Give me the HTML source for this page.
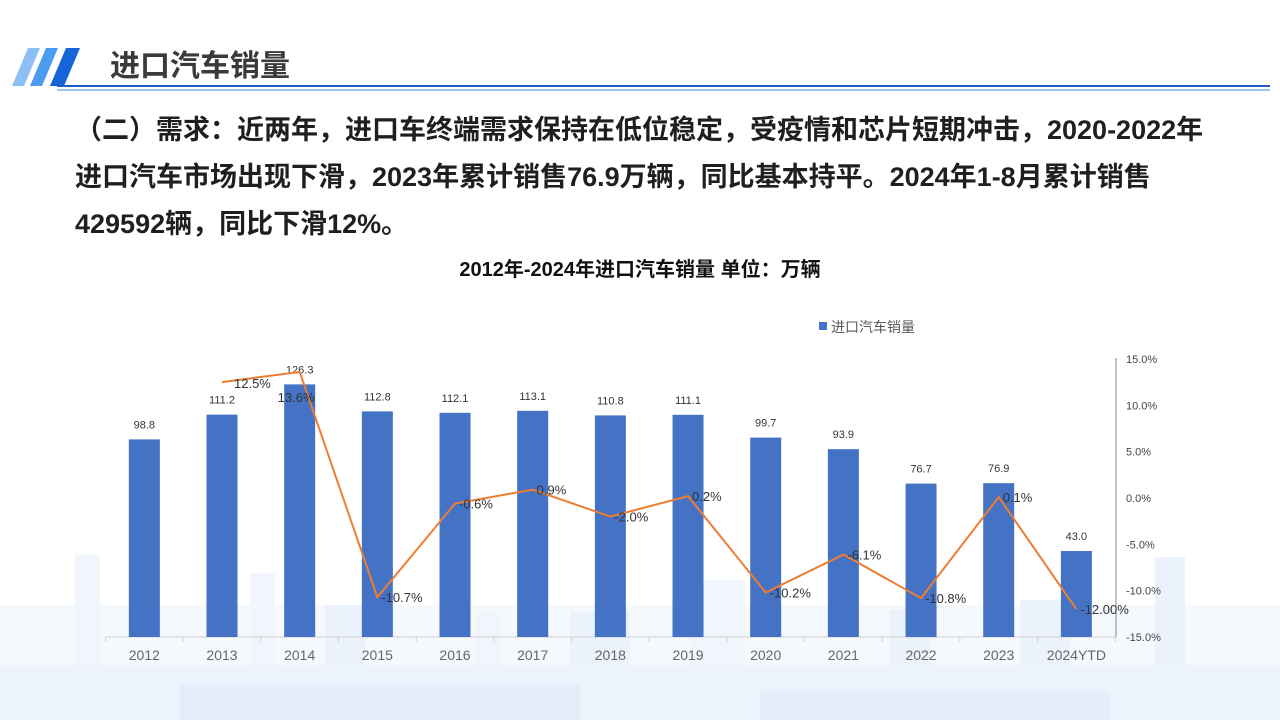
<!DOCTYPE html>
<html><head><meta charset="utf-8">
<style>
body{margin:0;width:1280px;height:720px;overflow:hidden;background:#fff;font-family:"Liberation Sans","Noto Sans CJK SC",sans-serif;}
#wrap{position:relative;width:1280px;height:720px;}
.para{position:absolute;left:75px;top:107px;width:1200px;font-size:27px;font-weight:bold;color:#1f1f1f;line-height:47px;white-space:nowrap;}
</style></head><body>
<div id="wrap">
<svg width="1280" height="720" style="position:absolute;left:0;top:0">
  <g fill="#f1f6fd">
    <rect x="0" y="605" width="1280" height="115" fill="#f5f8fd"/>
    <rect x="75" y="555" width="25" height="165"/>
    <rect x="250" y="573" width="25" height="147"/>
    <rect x="325" y="605" width="40" height="115" fill="#ebf2fc"/>
    <rect x="475" y="612" width="25" height="108"/>
    <rect x="570" y="612" width="60" height="108" fill="#ebf2fc"/>
    <rect x="690" y="580" width="55" height="140"/>
    <rect x="890" y="610" width="40" height="110" fill="#ebf2fc"/>
    <rect x="1020" y="600" width="50" height="120" fill="#ebf2fc"/>
    <rect x="1155" y="557" width="30" height="163" fill="#ebf2fc"/>
    <rect x="0" y="665" width="1280" height="55" fill="#edf3fc"/>
    <rect x="180" y="685" width="400" height="35" fill="#e4eefb"/>
    <rect x="760" y="692" width="350" height="28" fill="#e4eefb"/>
  </g>
  <g>
    <polygon points="28,48 40,48 24,86 12,86" fill="#8cc0f5"/>
    <polygon points="46,48 58,48 42,86 30,86" fill="#4b9cf0"/>
    <polygon points="66,48 80,48 64,86 50,86" fill="#1565d8"/>
  </g>
  <line x1="57" y1="86" x2="1270" y2="86" stroke="#1d5fc4" stroke-width="2"/>
  <line x1="57" y1="90" x2="1270" y2="90" stroke="#7fb0ea" stroke-width="1.5"/>
  <text x="110" y="76" font-size="30" font-weight="bold" fill="#3a3a3a">进口汽车销量</text>
  <text x="640" y="276" font-size="20" font-weight="bold" fill="#111" text-anchor="middle">2012年-2024年进口汽车销量  单位：万辆</text>
  <rect x="819" y="322" width="8" height="8" fill="#4472c4"/>
  <text x="831" y="332" font-size="14" fill="#595959">进口汽车销量</text>
  <g id="chart"></g>
</svg>
<div class="para">（二）需求：近两年，进口车终端需求保持在低位稳定，受疫情和芯片短期冲击，2020-2022年<br>进口汽车市场出现下滑，2023年累计销售76.9万辆，同比基本持平。2024年1-8月累计销售<br>429592辆，同比下滑12%。</div>
</div>
<script>
const categories=["2012","2013","2014","2015","2016","2017","2018","2019","2020","2021","2022","2023","2024YTD"];
const sales=[98.8,111.2,126.3,112.8,112.1,113.1,110.8,111.1,99.7,93.9,76.7,76.9,43.0];
const growth=[null,12.5,13.6,-10.7,-0.6,0.9,-2.0,0.2,-10.2,-6.1,-10.8,0.1,-12.0];
const growthLabels=["","12.5%","13.6%","-10.7%","-0.6%","0.9%","-2.0%","0.2%","-10.2%","-6.1%","-10.8%","0.1%","-12.00%"];
const rightTicks=[15,10,5,0,-5,-10,-15];
const rightTickLabels=["15.0%","10.0%","5.0%","0.0%","-5.0%","-10.0%","-15.0%"];

const NS="http://www.w3.org/2000/svg";
const g=document.getElementById('chart');
const x0=105.5,step=77.67,base=637;
const xc=i=>x0+step*(i+0.5);
const yL=v=>base-v*2.0;
const yR=v=>498-v*9.27;
function mk(t,a){const e=document.createElementNS(NS,t);for(const k in a)e.setAttribute(k,a[k]);g.appendChild(e);return e;}
let ax=mk('line',{x1:x0,y1:base,x2:x0+step*13,y2:base,stroke:'#d0d0d0'});


for(let i=0;i<=13;i++){const t=mk('line',{x1:x0+step*i,y1:base,x2:x0+step*i,y2:base+5,stroke:'#d0d0d0'});

}
let ra=mk('line',{x1:1116,y1:358,x2:1116,y2:637,stroke:'#888'});


rightTicks.forEach((v,i)=>{const t=mk('text',{x:1126,y:yR(v)+4,'font-size':11,fill:'#444'});t.textContent=rightTickLabels[i];

});
categories.forEach((c,i)=>{
 const b=mk('rect',{x:xc(i)-15.5,y:yL(sales[i]),width:31,height:base-yL(sales[i]),fill:'#4472c4'});
 
 
 const l=mk('text',{x:xc(i),y:yL(sales[i])-11,'font-size':11,fill:'#333','text-anchor':'middle'});l.textContent=sales[i].toFixed(1);
 
 
 const t=mk('text',{x:xc(i),y:660,'font-size':14,fill:'#666','text-anchor':'middle'});t.textContent=c;
 
 
});
let pts=[];growth.forEach((v,i)=>{if(v!==null)pts.push(xc(i)+','+yR(v));});
const pl=mk('polyline',{points:pts.join(' '),fill:'none',stroke:'#ed7d31','stroke-width':2});


growth.forEach((v,i)=>{if(v===null)return;
 let dx=4,dy=5;if(i===1){dx=12;dy=6}if(i===2){dx=-22;dy=30}
 const t=mk('text',{x:xc(i)+dx,y:yR(v)+dy,'font-size':13,fill:'#333'});t.textContent=growthLabels[i];
 
 });
</script>
</body></html>
